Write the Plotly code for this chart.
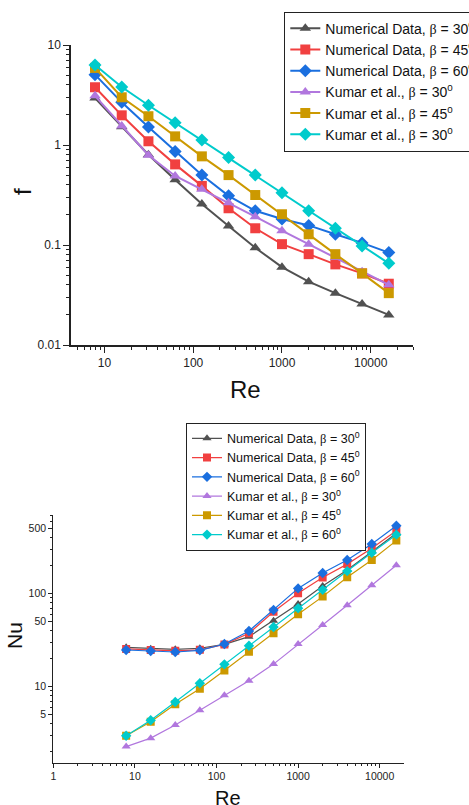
import plotly.graph_objects as go

# ---------------- data ----------------
re_vals = [7.8125, 15.625, 31.25, 62.5, 125, 250, 500, 1000, 2000, 4000, 8000, 16000]

f_num30 = [2.95, 1.52, 0.80, 0.45, 0.257, 0.155, 0.094, 0.060, 0.043, 0.033, 0.0257, 0.020]
f_num45 = [3.78, 1.98, 1.09, 0.64, 0.39, 0.233, 0.147, 0.102, 0.081, 0.064, 0.052, 0.041]
f_num60 = [5.05, 2.67, 1.51, 0.86, 0.50, 0.31, 0.22, 0.182, 0.157, 0.128, 0.105, 0.084]
f_kum30 = [3.1, 1.55, 0.79, 0.49, 0.36, 0.265, 0.192, 0.139, 0.102, 0.075, 0.054, 0.040]
f_kum45 = [5.9, 3.0, 1.94, 1.22, 0.77, 0.50, 0.316, 0.203, 0.128, 0.081, 0.052, 0.033]
f_kum60 = [6.3, 3.8, 2.5, 1.67, 1.12, 0.75, 0.50, 0.333, 0.22, 0.147, 0.098, 0.0656]

nu_num30 = [26.5, 25.6, 25.2, 25.9, 28.5, 34.5, 51.3, 77.4, 121, 180, 283, 446]
nu_num45 = [25.5, 24.8, 24.3, 24.9, 28.5, 37.5, 64, 101, 149, 208, 308, 476]
nu_num60 = [24.8, 24.2, 23.6, 24.6, 28.8, 39.7, 66.9, 114, 167, 230, 342, 538]
nu_kum30 = [2.27, 2.8, 3.87, 5.57, 8.1, 11.6, 17.5, 28.7, 46, 75, 123, 202]
nu_kum45 = [2.97, 4.2, 6.47, 9.5, 14.9, 23.8, 37.5, 60, 93, 150, 230, 372]
nu_kum60 = [2.97, 4.36, 6.84, 10.9, 17.4, 27.6, 43.9, 69.7, 110, 175, 276, 431]

B = "<span style=\"font-family:'Liberation Serif'\">β</span>"
top_names = [
    f"Numerical Data, {B} = 30<sup>0</sup>",
    f"Numerical Data, {B} = 45<sup>0</sup>",
    f"Numerical Data, {B} = 60<sup>0</sup>",
    f"Kumar et al., {B} = 30<sup>0</sup>",
    f"Kumar et al., {B} = 45<sup>0</sup>",
    f"Kumar et al., {B} = 30<sup>0</sup>",
]
bot_names = [
    f"Numerical Data, {B} = 30<sup>0</sup>",
    f"Numerical Data, {B} = 45<sup>0</sup>",
    f"Numerical Data, {B} = 60<sup>0</sup>",
    f"Kumar et al., {B} = 30<sup>0</sup>",
    f"Kumar et al., {B} = 45<sup>0</sup>",
    f"Kumar et al., {B} = 60<sup>0</sup>",
]

colors = ["#515151", "#F14040", "#1A6FDF", "#B177DE", "#CC9900", "#00CBCC"]
symbols = ["triangle-up", "square", "diamond", "triangle-up", "square", "diamond"]

f_series = [f_num30, f_num45, f_num60, f_kum30, f_kum45, f_kum60]
nu_series = [nu_num30, nu_num45, nu_num60, nu_kum30, nu_kum45, nu_kum60]

W, H = 469, 805
FONT = "Liberation Sans, Arial, sans-serif"
AX = "#222222"

fig = go.Figure()

for ys, name, c, s in zip(f_series, top_names, colors, symbols):
    fig.add_trace(go.Scatter(
        x=re_vals, y=ys, name=name, mode="lines+markers",
        line=dict(color=c, width=2),
        marker=dict(symbol=s, color=c, size=10),
        xaxis="x", yaxis="y", legend="legend"))

for ys, name, c, s in zip(nu_series, bot_names, colors, symbols):
    fig.add_trace(go.Scatter(
        x=re_vals, y=ys, name=name, mode="lines+markers",
        line=dict(color=c, width=1.2),
        marker=dict(symbol=s, color=c, size=8),
        xaxis="x2", yaxis="y2", legend="legend2"))


def minor_vals(lo, hi):
    out = []
    for e in range(lo, hi + 1):
        for m in range(2, 10):
            out.append(m * 10 ** e)
    return out


def px_x(p):
    return p / W


def px_y(p):
    return 1 - p / H


common = dict(showline=True, linecolor=AX, ticks="outside", tickcolor=AX,
              showgrid=False, zeroline=False, type="log")

fig.update_layout(
    width=W, height=H,
    margin=dict(l=0, r=0, t=0, b=0, autoexpand=False),
    paper_bgcolor="white", plot_bgcolor="white",
    font=dict(family=FONT, color="#111"),
    showlegend=True,
    xaxis=dict(**common, domain=[px_x(71), px_x(413)], range=[0.622, 4.477],
               linewidth=1.5, ticklen=6, tickwidth=1.3,
               tickfont=dict(family=FONT, color=AX, size=12),
               tickvals=[10, 100, 1000, 10000], ticktext=["10", "100", "1000", "10000"],
               minor=dict(tickvals=minor_vals(0, 4), ticks="outside", ticklen=3,
                          tickcolor=AX, tickwidth=1),
               anchor="y"),
    yaxis=dict(**common, domain=[px_y(345), px_y(45)], range=[-2, 1],
               linewidth=1.5, ticklen=6, tickwidth=1.3,
               tickfont=dict(family=FONT, color=AX, size=12),
               tickvals=[0.01, 0.1, 1, 10], ticktext=["0.01", "0.1", "1", "10"],
               minor=dict(tickvals=minor_vals(-2, 0), ticks="outside", ticklen=3,
                          tickcolor=AX, tickwidth=1),
               anchor="x"),
    xaxis2=dict(**common, domain=[px_x(53.3), px_x(404)], range=[0, 4.298],
                linewidth=1.2, ticklen=4, tickwidth=1,
                tickfont=dict(family=FONT, color=AX, size=10.5),
                tickvals=[1, 10, 100, 1000, 10000], ticktext=["1", "10", "100", "1000", "10000"],
                minor=dict(tickvals=minor_vals(0, 4), ticks="outside", ticklen=2,
                           tickcolor=AX, tickwidth=1),
                anchor="y2"),
    yaxis2=dict(**common, domain=[px_y(762.7), px_y(515)], range=[0.183, 2.846],
                linewidth=1.2, ticklen=4, tickwidth=1,
                tickfont=dict(family=FONT, color=AX, size=10.5),
                tickvals=[5, 10, 50, 100, 500], ticktext=["5", "10", "50", "100", "500"],
                minor=dict(tickvals=[v for v in minor_vals(0, 2) if v not in (5, 50, 500)],
                           ticks="outside", ticklen=2, tickcolor=AX, tickwidth=1),
                anchor="x2"),
    legend=dict(x=px_x(284.3), y=px_y(11.7), xanchor="left", yanchor="top",
                bgcolor="white", bordercolor=AX, borderwidth=1,
                font=dict(family=FONT, size=14, color="#111"),
                traceorder="normal"),
    legend2=dict(x=px_x(186), y=px_y(422.7), xanchor="left", yanchor="top",
                 bgcolor="white", bordercolor=AX, borderwidth=1,
                 font=dict(family=FONT, size=12.5, color="#111"),
                 traceorder="normal"),
)

ann = [
    dict(text="Re", x=px_x(245.7), y=px_y(389), size=24, angle=0),
    dict(text="f", x=px_x(22), y=px_y(192), size=24, angle=-90),
    dict(text="Nu", x=px_x(14), y=px_y(636), size=21, angle=-90),
    dict(text="Re", x=px_x(228.3), y=px_y(798), size=20, angle=0),
]
for a in ann:
    fig.add_annotation(text=a["text"], x=a["x"], y=a["y"], xref="paper", yref="paper",
                       xanchor="center", yanchor="middle", showarrow=False,
                       textangle=a["angle"], font=dict(family=FONT, size=a["size"], color="#111"))

fig.write_html("out.html")
